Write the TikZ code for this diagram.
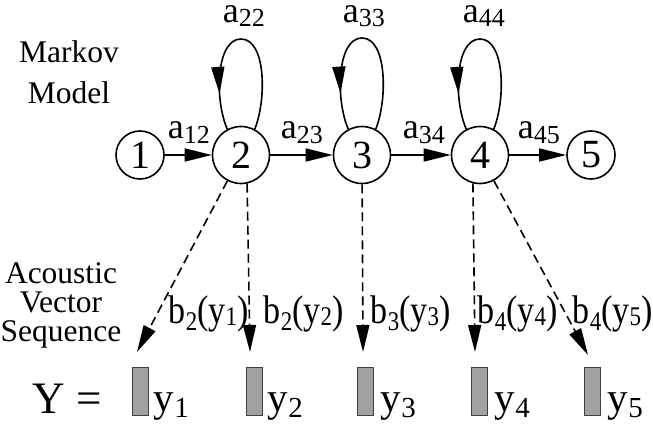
\documentclass[tikz,border=0pt]{standalone}
\usepackage{fontspec}
\setmainfont{Liberation Serif}
\newfontfamily\narrowrm[FakeStretch=0.85]{Liberation Serif}
\usepackage{tikz}
\usetikzlibrary{positioning, calc, arrows.meta, decorations.markings}

\newcommand{\fsz}[1]{\fontsize{#1}{#1}\selectfont}
% label helpers: a_{ij}, b_j(y_t), y_t
\newcommand{\asub}[1]{a\raisebox{-5pt}{\fsz{26}#1}}
\newcommand{\bsub}[2]{b\raisebox{-7pt}{\fsz{27}#1}(y\raisebox{-2pt}{\fsz{27}#2})}
\newcommand{\ysub}[1]{y\raisebox{-6pt}{\fsz{29}#1}}

\begin{document}
\begin{tikzpicture}[x=1pt, y=-1pt, line width=1.6pt,
    >={Triangle[length=27pt,width=13pt]},
    state/.style={circle, draw, inner sep=0pt, minimum size=57pt, font=\fsz{40}},
    endstate/.style={state, minimum size=48pt},
    trans/.style={inner sep=0pt, anchor=base west, font=\fsz{36}},
    toptrans/.style={trans, text height=18pt},
    emit/.style={inner sep=0pt, anchor=base west, font=\narrowrm\fsz{40}},
    obsname/.style={inner sep=0pt, anchor=base west, font=\fsz{41}},
    obs/.style={->, dash pattern=on 9pt off 5pt},
    selfloop/.style={postaction={decorate},
      decoration={markings, mark=at position 0.82 with {\arrow{>}}}},
    frame/.style={draw=black!75, line width=1pt, fill=black!37,
      minimum width=16pt, minimum height=48pt, inner sep=0pt}]

    \useasboundingbox (0,0) rectangle (653,423);

    % --- Captions ---
    \node[align=center, anchor=north, inner sep=0pt, font=\fontsize{31.5}{41}\selectfont] (mm) at (69,40) {Markov\\Model};
    \node[align=center, anchor=north, inner sep=0pt, font=\fontsize{31.5}{29}\selectfont] (avs) at (61,262) {Acoustic\\Vector\\Sequence};

    % --- States ---
    \node[endstate] (s1) at (140,155) {1};
    \node[state] (s2) at (241,155) {2};
    \node[state] (s3) at (362,155) {3};
    \node[state] (s4) at (480,155) {4};
    \node[endstate] (s5) at (591,155) {5};

    % --- Transitions left to right ---
    \draw[->] (s1) -- (s2);
    \draw[->] (s2) -- (s3);
    \draw[->] (s3) -- (s4);
    \draw[->] (s4) -- (s5);
    \node[trans] (a12) at (167,138) {\asub{12}};
    \node[trans] (a23) at (280,138) {\asub{23}};
    \node[trans] (a34) at (402,138) {\asub{34}};
    \node[trans] (a45) at (517,138) {\asub{45}};

    % --- Self loops (arrow on the way down, left side) ---
    \draw[selfloop] (s2.62) .. controls +(12,-30) and +(25,0) .. ($(s2)+(0,-116)$)
                            .. controls +(-25,0) and +(-13,-30) .. (s2.118);
    \draw[selfloop] (s3.62) .. controls +(12,-30) and +(25,0) .. ($(s3)+(0,-117)$)
                            .. controls +(-25,0) and +(-13,-30) .. (s3.118);
    \draw[selfloop] (s4.62) .. controls +(12,-30) and +(25,0) .. ($(s4)+(0,-116)$)
                            .. controls +(-25,0) and +(-13,-30) .. (s4.118);
    \node[toptrans] (a22) at (222,22) {\asub{22}};
    \node[toptrans] (a33) at (342,22) {\asub{33}};
    \node[toptrans] (a44) at (462,22) {\asub{44}};

    % --- Output distributions ---
    \coordinate (t1) at (137,352);
    \coordinate (t2) at (250,352);
    \coordinate (t3) at (363,352);
    \coordinate (t4) at (475,352);
    \coordinate (t5) at (588,355);
    \draw[obs] (s2) -- (t1);
    \draw[obs] (s2.-78) -- (t2);
    \draw[obs] (s3) -- (t3);
    \draw[obs] (s4.-104) -- (t4);
    \draw[obs] (s4) -- (t5);
    \node[emit] (b21) at (168,323) {\bsub{2}{1}};
    \node[emit] (b22) at (263,323) {\bsub{2}{2}};
    \node[emit] (b33) at (370,323) {\bsub{3}{3}};
    \node[emit] (b44) at (477,323) {\bsub{4}{4}};
    \node[emit] (b45) at (572,323) {\bsub{4}{5}};

    % --- Observation sequence ---
    \node[anchor=base west, inner sep=0pt, font=\fsz{45}] (yeq) at (32,413) {Y =};
    \node[frame] (v1) at (140.5,391) {};
    \node[frame] (v2) at (254,391) {};
    \node[frame] (v3) at (365.5,391) {};
    \node[frame] (v4) at (479,391) {};
    \node[frame] (v5) at (592,391) {};
    \node[obsname] (y1) at (153,411) {\ysub{1}};
    \node[obsname] (y2) at (267,411) {\ysub{2}};
    \node[obsname] (y3) at (380,411) {\ysub{3}};
    \node[obsname] (y4) at (494,411) {\ysub{4}};
    \node[obsname] (y5) at (607,411) {\ysub{5}};

\end{tikzpicture}
\end{document}
